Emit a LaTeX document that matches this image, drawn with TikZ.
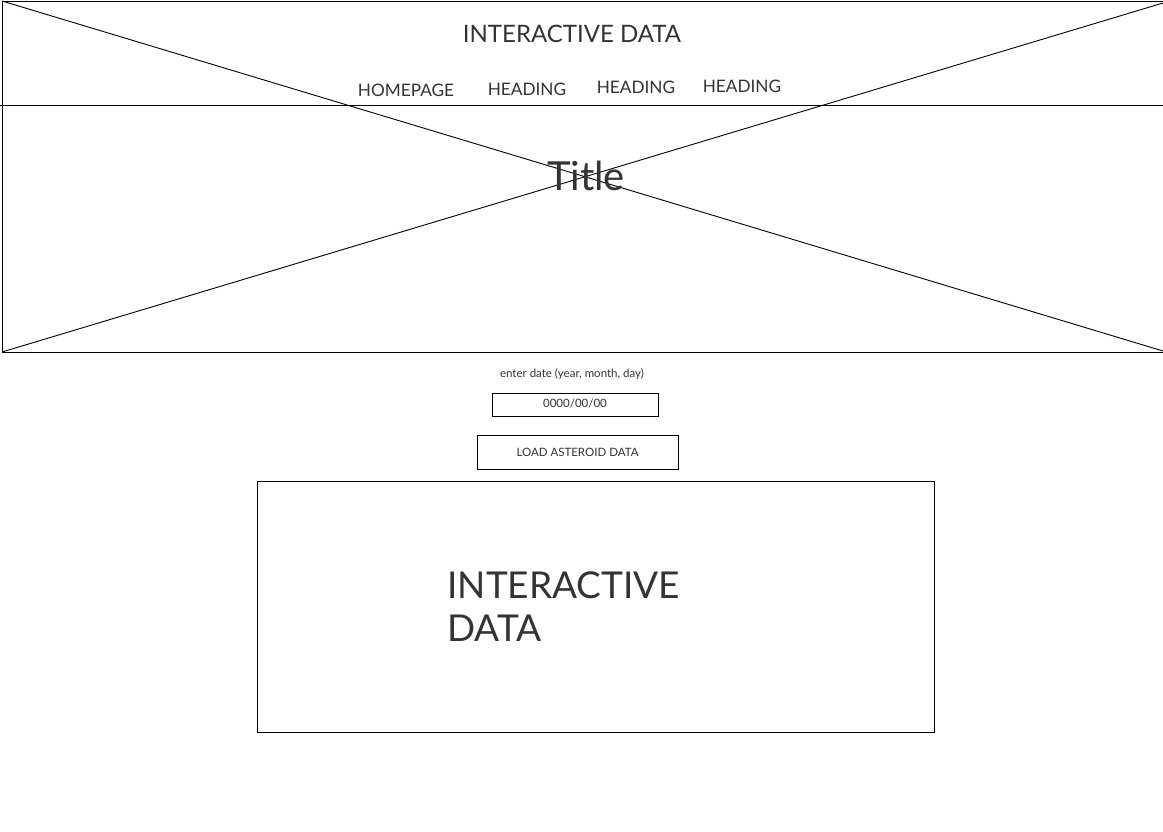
\documentclass[tikz,border=0pt]{standalone}
\usepackage{fontspec}
\setmainfont{Lato}
\definecolor{inkgray}{HTML}{333333}
\begin{document}
\begin{tikzpicture}[x=1pt, y=-1pt, line width=0.9pt,
  every node/.style = {text=inkgray, inner sep=0pt, align=center},
  navitem/.style = {font=\fontsize{17.2}{20}\selectfont},
  small/.style = {font=\fontsize{11.5}{13}\selectfont},
  field/.style = {draw, small}]
  \fill[white] (0,0) rectangle (1163,832);
  \useasboundingbox (0,0) rectangle (1163,832);
  \draw (2,1) rectangle (1166,352);
  \draw (0,105) -- (1163,105);
  \draw (2,1) -- (1163,351);
  \draw (2,352) -- (1163,3);
  \node (site) at (572,34) {\fontsize{24}{28}\selectfont INTERACTIVE DATA};
  \node[navitem] (home) at (406,90) {HOMEPAGE};
  \node[navitem] (headA) at (527,89) {HEADING};
  \node[navitem] (headB) at (636,87) {HEADING};
  \node[navitem] (headC) at (742,86) {HEADING};
  \node (title) at (586,176) {\fontsize{40}{44}\selectfont Title};
  \node[small] (prompt) at (572,374) {enter date (year, month, day)};
  \node[field, minimum width=166pt, minimum height=23pt, text depth=3pt] (date) at (575,404.5) {0000/00/00};
  \node[field, minimum width=201pt, minimum height=34pt] (load) at (577.5,452) {LOAD ASTEROID DATA};
  \draw (257,481) rectangle (934,732);
  \node[anchor=north west, align=left, font=\fontsize{37}{43}\selectfont] (chart) at (447,571) {INTERACTIVE\\DATA};
\end{tikzpicture}
\end{document}
